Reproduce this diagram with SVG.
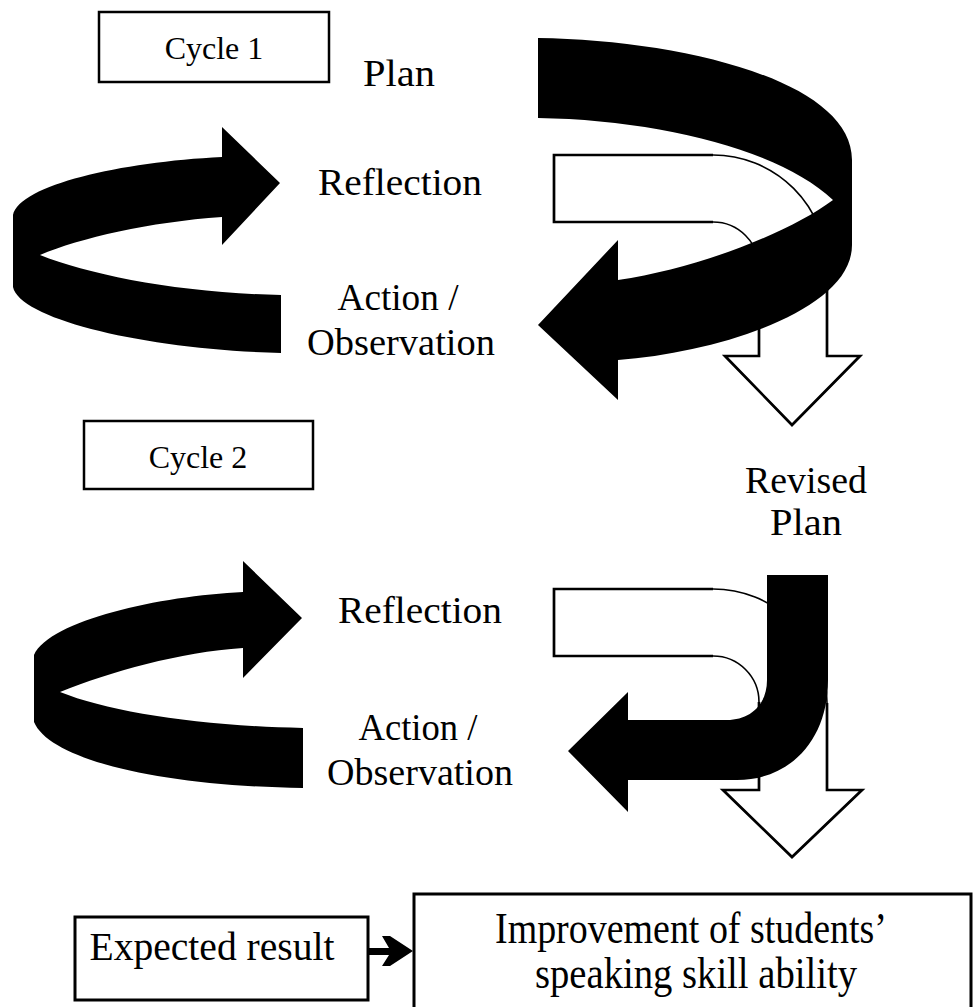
<svg xmlns="http://www.w3.org/2000/svg" width="973" height="1007" viewBox="0 0 973 1007">
<style>
.box{fill:#fff;stroke:#000;stroke-width:2.5}
.lbl{font-family:"Liberation Serif","Times New Roman",serif;font-size:38px;fill:#000;text-anchor:middle}
.big{font-family:"Liberation Serif","Times New Roman",serif;font-size:44px;fill:#000;text-anchor:middle}
.cyc{font-family:"Liberation Serif","Times New Roman",serif;font-size:32px;fill:#000;text-anchor:middle}
.blk{fill:#000}
.wht{fill:#fff;stroke:#000;stroke-width:1.6}
.edge{fill:none;stroke:#000;stroke-width:2.7;stroke-linejoin:miter}
</style>
<rect width="973" height="1007" fill="#fff"/>
<g id="connectors">
  <path class="wht" d="M554,155 L713,155 A114,114 0 0 1 827,269 L827,356 L860,356 L792,425 L725,356 L759,356 L759,268 A46,46 0 0 0 713,222 L554,222 Z"/>
  <path class="edge" d="M713,155 L554,155 L554,222 L713,222 M827,269 L827,356 L860,356 L792,425 L725,356 L759,356 L759,268"/>
  <path class="blk" d="M538,38 C680,40 852,80 852,160 L852,245 C852,310 720,352 618,360 L618,400 L538,325 L618,240 L618,280 C700,268 790,232 833,200 C780,150 660,120 538,118 Z"/>
  <path class="blk" d="M222,157 C120,162 20,185 13,215 L13,287 C20,320 150,350 281,353 L281,295 C180,293 90,275 40,255 C80,238 150,222 222,217 L222,245 L280,183 L222,127 Z"/>
  <path class="wht" d="M554,589 L713,589 A114,114 0 0 1 827,703 L827,790 L862,790 L792,857 L723,790 L759,790 L759,702 A46,46 0 0 0 713,656 L554,656 Z"/>
  <path class="edge" d="M713,589 L554,589 L554,656 L713,656 M827,703 L827,790 L862,790 L792,857 L723,790 L759,790 L759,702"/>
  <path class="blk" d="M767,575 L828,575 L828,680 C828,740 790,780 737,780 L628,780 L628,812 L568,751 L628,692 L628,720 L727,720 C750,720 767,705 767,680 Z"/>
  <path class="blk" d="M243,592 C160,596 50,620 34,655 L34,722 C50,760 160,786 303,788 L303,728 C200,726 110,712 60,692 C110,672 180,652 243,648 L243,678 L302,618 L243,561 Z"/>
  <polygon class="blk" points="368,948 389,948 382,936 390,936 413,951 390,966 382,966 389,955 368,955"/>
</g>
<g id="cycle1">
  <rect class="box" x="99" y="12" width="230" height="70"/>
  <text class="cyc" x="214" y="59">Cycle 1</text>
</g>
<g id="plan1"><text class="lbl" x="399" y="86" textLength="72" lengthAdjust="spacingAndGlyphs">Plan</text></g>
<g id="reflection1"><text class="lbl" x="400" y="195" textLength="164" lengthAdjust="spacingAndGlyphs">Reflection</text></g>
<g id="action1">
  <text class="lbl" x="398" y="310" textLength="121" lengthAdjust="spacingAndGlyphs">Action /</text>
  <text class="lbl" x="401" y="355" textLength="188" lengthAdjust="spacingAndGlyphs">Observation</text>
</g>
<g id="cycle2">
  <rect class="box" x="84" y="421" width="229" height="68"/>
  <text class="cyc" x="198" y="468">Cycle 2</text>
</g>
<g id="revised">
  <text class="lbl" x="806" y="493" textLength="122" lengthAdjust="spacingAndGlyphs">Revised</text>
  <text class="lbl" x="806" y="535" textLength="72" lengthAdjust="spacingAndGlyphs">Plan</text>
</g>
<g id="reflection2"><text class="lbl" x="420" y="623" textLength="164" lengthAdjust="spacingAndGlyphs">Reflection</text></g>
<g id="action2">
  <text class="lbl" x="418" y="740" textLength="119" lengthAdjust="spacingAndGlyphs">Action /</text>
  <text class="lbl" x="420" y="785" textLength="186" lengthAdjust="spacingAndGlyphs">Observation</text>
</g>
<g id="expected">
  <rect class="box" x="75" y="917" width="293" height="83" style="stroke-width:3"/>
  <text class="lbl" x="212" y="960" textLength="245" lengthAdjust="spacingAndGlyphs" style="font-size:40px">Expected result</text>
</g>
<g id="improvement">
  <rect class="box" x="414" y="894" width="557" height="120" style="stroke-width:3"/>
  <text class="big" x="691" y="943" textLength="392" lengthAdjust="spacingAndGlyphs">Improvement of students’</text>
  <text class="big" x="696" y="988" textLength="322" lengthAdjust="spacingAndGlyphs">speaking skill ability</text>
</g>
</svg>
